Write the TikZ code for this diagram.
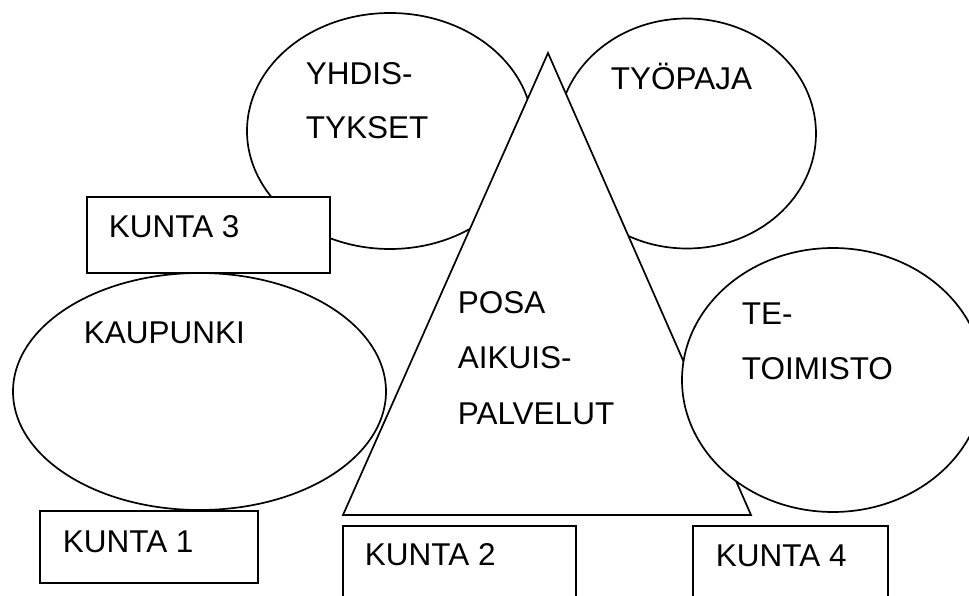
\documentclass[tikz,border=0pt]{standalone}
\usepackage{fontspec}
\setmainfont{Liberation Sans}
\begin{document}
\begin{tikzpicture}[x=1pt,y=-1pt,line width=1.7pt,
  lbl/.style={anchor=base west,inner sep=0pt,font=\fontsize{31.5}{38}\selectfont},
  boxshape/.style={draw,fill=white}]
\useasboundingbox (0,0) rectangle (969,596);
\clip (0,0) rectangle (969,596);
% ellipses behind the triangle
\draw (390,131) ellipse [x radius=143,y radius=118];
\draw (687,133.5) ellipse [x radius=129,y radius=115];
% triangle
\draw[fill=white,line join=miter] (548,53) -- (751,515) -- (343,515) -- cycle;
% KAUPUNKI ellipse
\draw (199.5,391.5) ellipse [x radius=186.5,y radius=118.5];
% TE-TOIMISTO ellipse, over the triangle
\draw[fill=white] (833,380) ellipse [x radius=151,y radius=132];
% boxes
\draw[boxshape] (87,197) rectangle (330,273);
\draw[boxshape] (40,511) rectangle (258,583);
\draw[boxshape] (343,526) rectangle (576,640);
\draw[boxshape] (693,526) rectangle (888,640);
% texts
\node[lbl] (yh1) at (305,85) {YHDIS-};
\node[lbl] (yh2) at (305,139) {TYKSET};
\node[lbl] (ty) at (610,90) {TYÖPAJA};
\node[lbl] (k3) at (108,237) {KUNTA 3};
\node[lbl] (kp) at (83,343) {KAUPUNKI};
\node[lbl] (po1) at (457,313) {POSA};
\node[lbl] (po2) at (457,368) {AIKUIS-};
\node[lbl] (po3) at (457,424) {PALVELUT};
\node[lbl] (te1) at (741,324) {TE-};
\node[lbl] (te2) at (741,379) {TOIMISTO};
\node[lbl] (k1) at (62,552) {KUNTA 1};
\node[lbl] (k2) at (364,565) {KUNTA 2};
\node[lbl] (k4) at (715,566) {KUNTA 4};
\end{tikzpicture}
\end{document}
